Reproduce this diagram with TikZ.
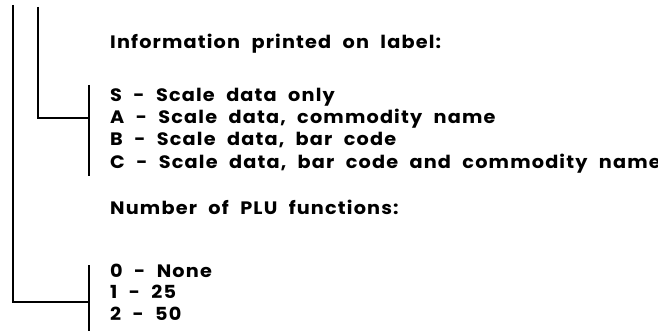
\documentclass[tikz,border=0pt]{standalone}
\usepackage{fontspec}
\setmainfont{Poppins}[LetterSpace=6]
\newcommand\wordline[3]{%
  \foreach \w [count=\i, remember=\i as \j (initially 0)] in {#3} {%
    \ifnum\i=1
      \node[txt] (#1-\i) at (110,#2) {\w};
    \else
      \node[txt] (#1-\i) at ([xshift=11pt]#1-\j.base east) {\w};
    \fi
  }%
}
\begin{document}
\begin{tikzpicture}[x=1pt,y=-1pt,
  txt/.style={anchor=base west, inner sep=0pt, transform shape, xscale=1.07, font=\bfseries\fontsize{18}{22}\selectfont},
  wire/.style={line width=2.2pt, line cap=butt, line join=miter},
  brk/.style={line width=2.8pt}]
\useasboundingbox (0,0) rectangle (658,331);
% text, one node per word
\wordline{info}{49}{Information,printed,on,label:}
\wordline{s}{102}{S,-,Scale,data,only}
\wordline{a}{124}{A,-,Scale,{data,},commodity,name}
\wordline{b}{146}{B,-,Scale,{data,},bar,code}
\wordline{c}{168}{C,-,Scale,{data,},bar,code,and,commodity,name}
\wordline{num}{214}{Number,of,PLU,functions:}
\wordline{z}{277}{0,-,None}
\wordline{o}{298}{1,-,25}
\wordline{t}{320}{2,-,50}
% brackets
\coordinate (b1t) at (89,85);
\coordinate (b1b) at (89,176);
\coordinate (b1m) at (89,118);
\coordinate (b2t) at (89,265);
\coordinate (b2b) at (89,331);
\coordinate (b2m) at (89,302);
\draw[brk] (b1t) -- (b1b);
\draw[brk] (b2t) -- (b2b);
% leader lines
\coordinate (l1) at (38,7);
\coordinate (l2) at (13,5);
\draw[wire] (l1) |- (b1m);
\draw[wire] (l2) |- (b2m);
\end{tikzpicture}
\end{document}
